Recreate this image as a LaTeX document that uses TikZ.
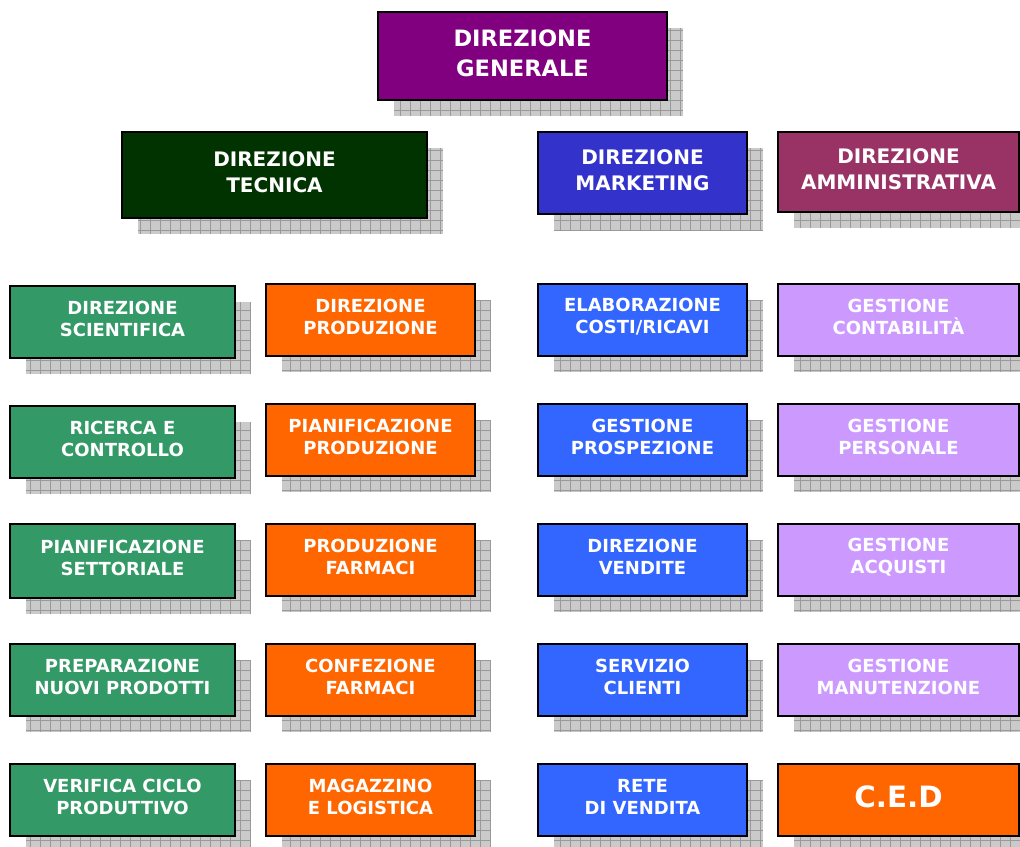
\documentclass[tikz,border=0pt]{standalone}
\usepackage{fontspec}
\setmainfont{DejaVu Sans}
\definecolor{cpurple}{HTML}{800080}
\definecolor{cdkgreen}{HTML}{003300}
\definecolor{cmkt}{HTML}{3333CC}
\definecolor{cadm}{HTML}{993366}
\definecolor{cgreen}{HTML}{339966}
\definecolor{corange}{HTML}{FF6600}
\definecolor{cblue}{HTML}{3366FF}
\definecolor{clav}{HTML}{CC99FF}
\definecolor{cshfill}{HTML}{CACACA}
\definecolor{cshgrid}{HTML}{999999}
\tikzset{
  shadowfill/.style={fill=cshfill},
  shadowgrid/.style={draw=cshgrid, line width=0.5pt, step=7.5pt},
  boxframe/.style={draw=black, line width=1.5pt},
  boxtext/.style={text=white, align=center, inner sep=0pt, font=\bfseries},
  fsG/.style={font=\bfseries\fontsize{16.9}{22.5}\selectfont},
  fsA/.style={font=\bfseries\fontsize{15}{19.5}\selectfont},
  fsB/.style={font=\bfseries\fontsize{13.5}{16.5}\selectfont},
  fsC/.style={font=\bfseries\fontsize{22}{24}\selectfont},
}
\newcommand{\orgbox}[8]{%
  \begin{scope}
    \clip (#2+16,#3+16) rectangle (#4+16,#5+16);
    \fill[shadowfill] (#2+16,#3+16) rectangle (#4+16,#5+16);
    \draw[shadowgrid] (#2+16,#3+16) grid (#4+16,#5+16);
  \end{scope}
  \draw[boxframe, fill=#6] (#2,#3) rectangle (#4,#5);
  \node[boxtext, #7] (#1) at ({(#2+#4)/2},{(#3+#5)/2-3}) {#8};
}
\begin{document}
\begin{tikzpicture}[x=0.75pt, y=-0.75pt]
\useasboundingbox (0,0) rectangle (1020,846);
\clip (0,0) rectangle (1020,846);
\fill[white] (0,0) rectangle (1020,846);
% top
\orgbox{gen}{378}{12}{667}{100}{cpurple}{fsG}{DIREZIONE\\GENERALE}
\orgbox{tec}{122}{132}{427}{218}{cdkgreen}{fsA}{DIREZIONE\\TECNICA}
\orgbox{mkt}{538}{132}{747}{214}{cmkt}{fsA}{DIREZIONE\\MARKETING}
\orgbox{adm}{778}{132}{1019}{212}{cadm}{fsA}{DIREZIONE\\AMMINISTRATIVA}
% column 1
\orgbox{sci}{10}{286}{235}{358}{cgreen}{fsB}{DIREZIONE\\SCIENTIFICA}
\orgbox{ric}{10}{406}{235}{478}{cgreen}{fsB}{RICERCA E\\CONTROLLO}
\orgbox{pse}{10}{524}{235}{598}{cgreen}{fsB}{PIANIFICAZIONE\\SETTORIALE}
\orgbox{pre}{10}{644}{235}{716}{cgreen}{fsB}{PREPARAZIONE\\NUOVI PRODOTTI}
\orgbox{ver}{10}{764}{235}{836}{cgreen}{fsB}{VERIFICA CICLO\\PRODUTTIVO}
% column 2
\orgbox{dpr}{266}{284}{475}{356}{corange}{fsB}{DIREZIONE\\PRODUZIONE}
\orgbox{ppr}{266}{404}{475}{476}{corange}{fsB}{PIANIFICAZIONE\\PRODUZIONE}
\orgbox{pfa}{266}{524}{475}{596}{corange}{fsB}{PRODUZIONE\\FARMACI}
\orgbox{cfa}{266}{644}{475}{716}{corange}{fsB}{CONFEZIONE\\FARMACI}
\orgbox{mag}{266}{764}{475}{836}{corange}{fsB}{MAGAZZINO\\E LOGISTICA}
% column 3
\orgbox{ela}{538}{284}{747}{356}{cblue}{fsB}{ELABORAZIONE\\COSTI/RICAVI}
\orgbox{gpr}{538}{404}{747}{476}{cblue}{fsB}{GESTIONE\\PROSPEZIONE}
\orgbox{dve}{538}{524}{747}{596}{cblue}{fsB}{DIREZIONE\\VENDITE}
\orgbox{scl}{538}{644}{747}{716}{cblue}{fsB}{SERVIZIO\\CLIENTI}
\orgbox{rve}{538}{764}{747}{836}{cblue}{fsB}{RETE\\DI VENDITA}
% column 4
\orgbox{gco}{778}{284}{1019}{356}{clav}{fsB}{GESTIONE\\CONTABILITÀ}
\orgbox{gpe}{778}{404}{1019}{476}{clav}{fsB}{GESTIONE\\PERSONALE}
\orgbox{gac}{778}{524}{1019}{596}{clav}{fsB}{GESTIONE\\ACQUISTI}
\orgbox{gma}{778}{644}{1019}{716}{clav}{fsB}{GESTIONE\\MANUTENZIONE}
\orgbox{ced}{778}{764}{1019}{836}{corange}{fsC}{C.E.D}
\end{tikzpicture}
\end{document}
